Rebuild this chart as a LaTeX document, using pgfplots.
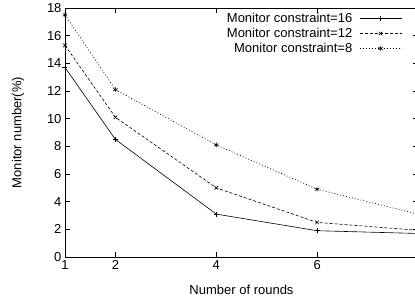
\documentclass[border=0pt]{standalone}
\usepackage{fontspec}
\setmainfont{Liberation Sans}
\usepackage{pgfplots}
\pgfplotsset{compat=1.18}
\begin{document}
\begin{tikzpicture}[x=1pt,y=1pt]
\useasboundingbox (0,0) rectangle (415,304);
\clip (0,0) rectangle (415,304);
\begin{axis}[
  at={(65pt,47pt)}, anchor=south west,
  scale only axis, width=353pt, height=249pt,
  xmin=1, xmax=8, ymin=0, ymax=18,
  xtick={1,2,4,6}, ytick={0,2,...,18},
  /pgf/number format/assume math mode=true,
  tick align=inside, major tick length=5pt,
  tick style={black, line width=0.6pt},
  axis line style={line width=0.8pt},
  font=\fontsize{13}{14}\selectfont,
  ticklabel style={font=\fontsize{13}{14}\selectfont},
  xlabel={Number of rounds},
  ylabel={Monitor number(\%)},
  xlabel style={at={(axis description cs:0.5,-0.1325)}, anchor=center},
  ylabel style={at={(axis description cs:-0.133,0.5)}, anchor=center},
  legend style={draw=none, fill=none, inner sep=0pt, at={(axis description cs:0.955,0.988)}, anchor=north east, font=\fontsize{13}{14}\selectfont, row sep=0pt, column sep=5pt},
  legend cell align=right,
  legend plot pos=right,
  legend image code/.code={\draw[mark repeat=2,mark phase=2,#1] plot coordinates {(0pt,0pt) (21pt,0pt) (42pt,0pt)};},
  every axis plot/.append style={line width=0.6pt, black, mark size=2.5pt, mark options={solid, line width=0.6pt}},
]
\addplot[solid, mark=+] coordinates {(1,13.7) (2,8.5) (4,3.1) (6,1.9) (8,1.7)};
\addlegendentry{Monitor constraint=16}
\addplot[dash pattern=on 3pt off 2pt, mark=x] coordinates {(1,15.3) (2,10.1) (4,5.0) (6,2.5) (8,1.93)};
\addlegendentry{Monitor constraint=12}
\addplot[dash pattern=on 1pt off 2pt, mark=asterisk] coordinates {(1,17.5) (2,12.1) (4,8.1) (6,4.9) (8,3.1)};
\addlegendentry{Monitor constraint=8}
\end{axis}
\end{tikzpicture}
\end{document}
